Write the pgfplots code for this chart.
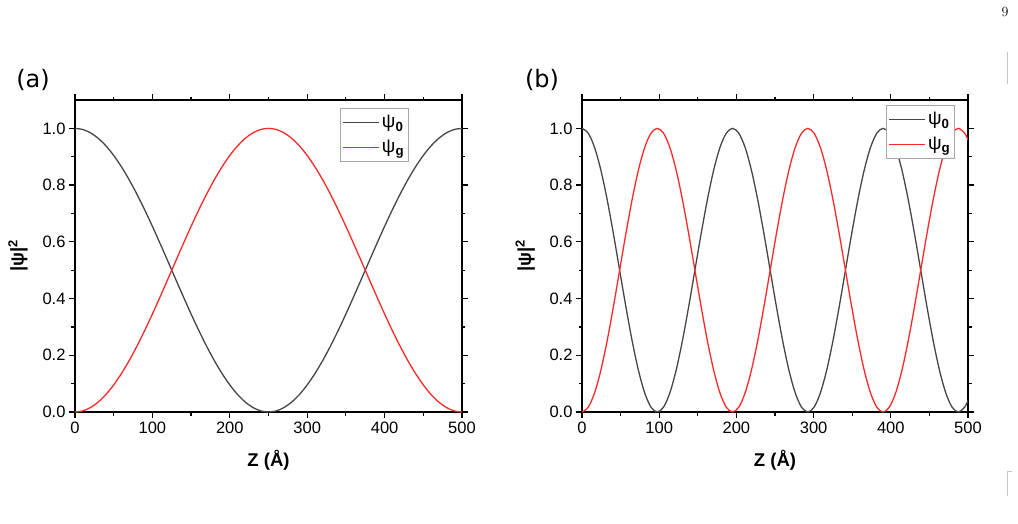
\documentclass[border=0pt]{standalone}
\usepackage{fontspec}
\newfontfamily\arial{Liberation Sans}
\newfontfamily\dejavu{DejaVu Sans}
\usepackage{pgfplots}
\pgfplotsset{compat=1.18}
\usepackage{pgfplotstable}

\definecolor{darkline}{RGB}{70,70,70}
\definecolor{redline}{RGB}{255,40,40}

\pgfplotstableread{
z p0 pg
0 1 0
10 0.99606 0.00394
20 0.98429 0.01571
30 0.96489 0.03511
40 0.93815 0.06185
50 0.90451 0.09549
60 0.86448 0.13552
70 0.81871 0.18129
80 0.76791 0.23209
90 0.71289 0.28711
100 0.65451 0.34549
110 0.59369 0.40631
120 0.53140 0.46860
130 0.46860 0.53140
140 0.40631 0.59369
150 0.34549 0.65451
160 0.28711 0.71289
170 0.23209 0.76791
180 0.18129 0.81871
190 0.13552 0.86448
200 0.09549 0.90451
210 0.06185 0.93815
220 0.03511 0.96489
230 0.01571 0.98429
240 0.00394 0.99606
250 0 1
260 0.00394 0.99606
270 0.01571 0.98429
280 0.03511 0.96489
290 0.06185 0.93815
300 0.09549 0.90451
310 0.13552 0.86448
320 0.18129 0.81871
330 0.23209 0.76791
340 0.28711 0.71289
350 0.34549 0.65451
360 0.40631 0.59369
370 0.46860 0.53140
380 0.53140 0.46860
390 0.59369 0.40631
400 0.65451 0.34549
410 0.71289 0.28711
420 0.76791 0.23209
430 0.81871 0.18129
440 0.86448 0.13552
450 0.90451 0.09549
460 0.93815 0.06185
470 0.96489 0.03511
480 0.98429 0.01571
490 0.99606 0.00394
500 1 0
}\dataA

\pgfplotstableread{
z p0 pg
0 1 0
8.125 0.98296 0.01704
16.25 0.93301 0.06699
24.375 0.85355 0.14645
32.5 0.75 0.25
40.625 0.62941 0.37059
48.75 0.5 0.5
56.875 0.37059 0.62941
65 0.25 0.75
73.125 0.14645 0.85355
81.25 0.06699 0.93301
89.375 0.01704 0.98296
97.5 0 1
105.625 0.01704 0.98296
113.75 0.06699 0.93301
121.875 0.14645 0.85355
130 0.25 0.75
138.125 0.37059 0.62941
146.25 0.5 0.5
154.375 0.62941 0.37059
162.5 0.75 0.25
170.625 0.85355 0.14645
178.75 0.93301 0.06699
186.875 0.98296 0.01704
195 1 0
203.125 0.98296 0.01704
211.25 0.93301 0.06699
219.375 0.85355 0.14645
227.5 0.75 0.25
235.625 0.62941 0.37059
243.75 0.5 0.5
251.875 0.37059 0.62941
260 0.25 0.75
268.125 0.14645 0.85355
276.25 0.06699 0.93301
284.375 0.01704 0.98296
292.5 0 1
300.625 0.01704 0.98296
308.75 0.06699 0.93301
316.875 0.14645 0.85355
325 0.25 0.75
333.125 0.37059 0.62941
341.25 0.5 0.5
349.375 0.62941 0.37059
357.5 0.75 0.25
365.625 0.85355 0.14645
373.75 0.93301 0.06699
381.875 0.98296 0.01704
390 1 0
398.125 0.98296 0.01704
406.25 0.93301 0.06699
414.375 0.85355 0.14645
422.5 0.75 0.25
430.625 0.62941 0.37059
438.75 0.5 0.5
446.875 0.37059 0.62941
455 0.25 0.75
463.125 0.14645 0.85355
471.25 0.06699 0.93301
479.375 0.01704 0.98296
487.5 0 1
495.625 0.01704 0.98296
500 0.04 0.96
}\dataB

\pgfplotsset{
  myaxis/.style={
    scale only axis, height=312pt,
    xmin=0, xmax=500, ymin=0, ymax=1.1,
    xtick={0,100,200,300,400,500},
    ytick={0,0.2,0.4,0.6,0.8,1},
    minor x tick num=1, minor y tick num=1,
    tick align=outside,
    major tick length=6pt, minor tick length=3.5pt,
    axis line style={black, line width=1.2pt},
    every tick/.style={black, line width=1.2pt},
    yticklabel style={/pgf/number format/.cd, fixed, fixed zerofill, precision=1},
    /pgf/number format/assume math mode=true,
    ticklabel style={font=\arial\fontsize{16.5}{18}\selectfont},
    label style={font=\arial\bfseries\fontsize{18.5}{20}\selectfont},
    xlabel={Z (Å)},
    ylabel={|ψ|\textsuperscript{2}},
    xlabel style={at={(axis description cs:0.5,-0.154)}, anchor=center},
    ylabel style={at={(axis description cs:-0.147,0.5)}, anchor=center},
    legend style={draw=gray!70, line width=0.8pt, fill=white,
      font=\arial\fontsize{19}{20}\selectfont, inner xsep=2pt, inner ysep=5pt,
      row sep=7pt, anchor=north west, legend cell align=left},
    legend image code/.code={\draw[##1, line width=1.5pt] (0pt,0pt) -- (36pt,0pt);},
  },
}

\begin{document}
\begin{tikzpicture}
\useasboundingbox (0,0) rectangle (1018pt,523pt);

\begin{axis}[myaxis, width=387pt, at={(75pt,111pt)}, anchor=south west,
    legend style={at={(0.685,0.974)}}]
  \addplot[darkline, line width=1.3pt, smooth] table[x=z, y=p0] {\dataA};
  \addlegendentry{ψ\textsubscript{\textbf{0}}}
  \addplot[redline, line width=1.3pt, smooth] table[x=z, y=pg] {\dataA};
  \addlegendentry{ψ\textsubscript{\textbf{g}}}
\end{axis}

\begin{axis}[myaxis, width=386pt, at={(582pt,111pt)}, anchor=south west,
    legend style={at={(0.788,0.984)}}]
  \addplot[darkline, line width=1.3pt, smooth] table[x=z, y=p0] {\dataB};
  \addlegendentry{ψ\textsubscript{\textbf{0}}}
  \addplot[redline, line width=1.3pt, smooth] table[x=z, y=pg] {\dataB};
  \addlegendentry{ψ\textsubscript{\textbf{g}}}
\end{axis}

\node[font=\dejavu\fontsize{24}{26}\selectfont] at (33pt,443pt) {(a)};
\node[font=\dejavu\fontsize{24}{26}\selectfont] at (542pt,443pt) {(b)};
\node[font=\fontsize{14}{16}\selectfont] at (1005pt,511pt) {9};
\draw[gray!45, line width=0.6pt] (1007pt,471pt) -- (1007pt,439pt);
\draw[gray!45, line width=0.6pt] (1012pt,52pt) -- (1007pt,52pt) -- (1007pt,27pt);
\end{tikzpicture}
\end{document}
